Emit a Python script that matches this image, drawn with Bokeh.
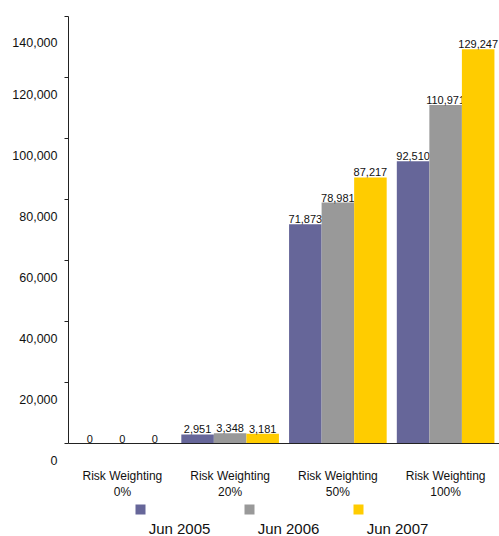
from bokeh.plotting import figure
from bokeh.models import ColumnDataSource, FactorRange, Range1d, FixedTicker
from bokeh.transform import dodge
from bokeh.layouts import column
from bokeh.embed import file_html
from bokeh.resources import INLINE
from bokeh.core.properties import value

categories = ["Risk Weighting\n0%", "Risk Weighting\n20%", "Risk Weighting\n50%", "Risk Weighting\n100%"]
series = ["Jun 2005", "Jun 2006", "Jun 2007"]
jun_2005 = [0, 2951, 71873, 92510]
jun_2006 = [0, 3348, 78981, 110971]
jun_2007 = [0, 3181, 87217, 129247]
colors = ["#666699", "#999999", "#FFCC00"]
y_ticks = [0, 20000, 40000, 60000, 80000, 100000, 120000, 140000]

FONT = "Liberation Sans"
TXT = "#111111"

data = {"cat": categories, "s0": jun_2005, "s1": jun_2006, "s2": jun_2007}
for k in ["s0", "s1", "s2"]:
    data[k + "_lbl"] = [f"{v:,}" for v in data[k]]
src = ColumnDataSource(data)

p = figure(width=499, height=502, x_range=FactorRange(*categories, range_padding=0),
           y_range=Range1d(0, 140000), output_backend="svg", toolbar_location=None,
           min_border_left=68, min_border_right=0, min_border_top=16, min_border_bottom=59)
p.outline_line_color = None
p.xgrid.grid_line_color = None
p.ygrid.grid_line_color = None

w = 0.302
offs = [-w, 0, w]
for k, off, c in zip(["s0", "s1", "s2"], offs, colors):
    p.vbar(x=dodge("cat", off, range=p.x_range), top=k, width=w, bottom=0, source=src,
           fill_color=c, line_color=None)
    p.text(x=dodge("cat", off, range=p.x_range), y=k, text=k + "_lbl", source=src,
           text_align="center", text_baseline="bottom", y_offset=-1,
           text_font=value(FONT), text_font_size="11px", text_color=TXT)

ya = p.yaxis[0]
ya.ticker = FixedTicker(ticks=y_ticks)
# tick labels sit below their ticks, as in the reference
ya.major_label_overrides = {t: "\n" + f"{t:,}" for t in y_ticks}
ya.major_label_text_line_height = 2.5
ya.major_label_text_baseline = "middle"
ya.major_label_text_font = FONT
ya.major_label_text_font_size = "12.5px"
ya.major_label_text_color = TXT
ya.major_label_standoff = 7
ya.minor_tick_line_color = None
ya.major_tick_in = 0
ya.major_tick_out = 4
ya.axis_line_color = "#222222"
ya.major_tick_line_color = "#222222"

xa = p.xaxis[0]
xa.major_tick_line_color = None
xa.major_tick_out = 0
xa.major_tick_in = 0
xa.axis_line_color = "#222222"
xa.major_label_standoff = 25
xa.major_label_text_font = FONT
xa.major_label_text_font_size = "12px"
xa.major_label_text_color = TXT

# legend strip (its frame is aligned with the main plot frame: x 68..499)
leg = figure(width=499, height=34, x_range=Range1d(68, 499), y_range=Range1d(0, 34),
             output_backend="svg", toolbar_location=None,
             min_border_left=68, min_border_right=0, min_border_top=0, min_border_bottom=0)
leg.outline_line_color = None
leg.axis.visible = False
leg.grid.visible = False
step = 109
sq_x = [140 + i * step for i in range(len(series))]
lb_x = [x + 39 for x in sq_x]
lsrc = ColumnDataSource({"sx": sq_x, "lx": lb_x, "c": colors, "name": series,
                         "sy": [27] * 3, "ly": [8] * 3})
leg.scatter(x="sx", y="sy", marker="square", size=10, fill_color="c", line_color=None, source=lsrc)
leg.text(x="lx", y="ly", text="name", source=lsrc, text_align="center", text_baseline="middle",
         text_font=value(FONT), text_font_size="15px", text_color=TXT)

layout = column(p, leg, spacing=0)
open("out.html", "w").write(file_html(layout, INLINE))
